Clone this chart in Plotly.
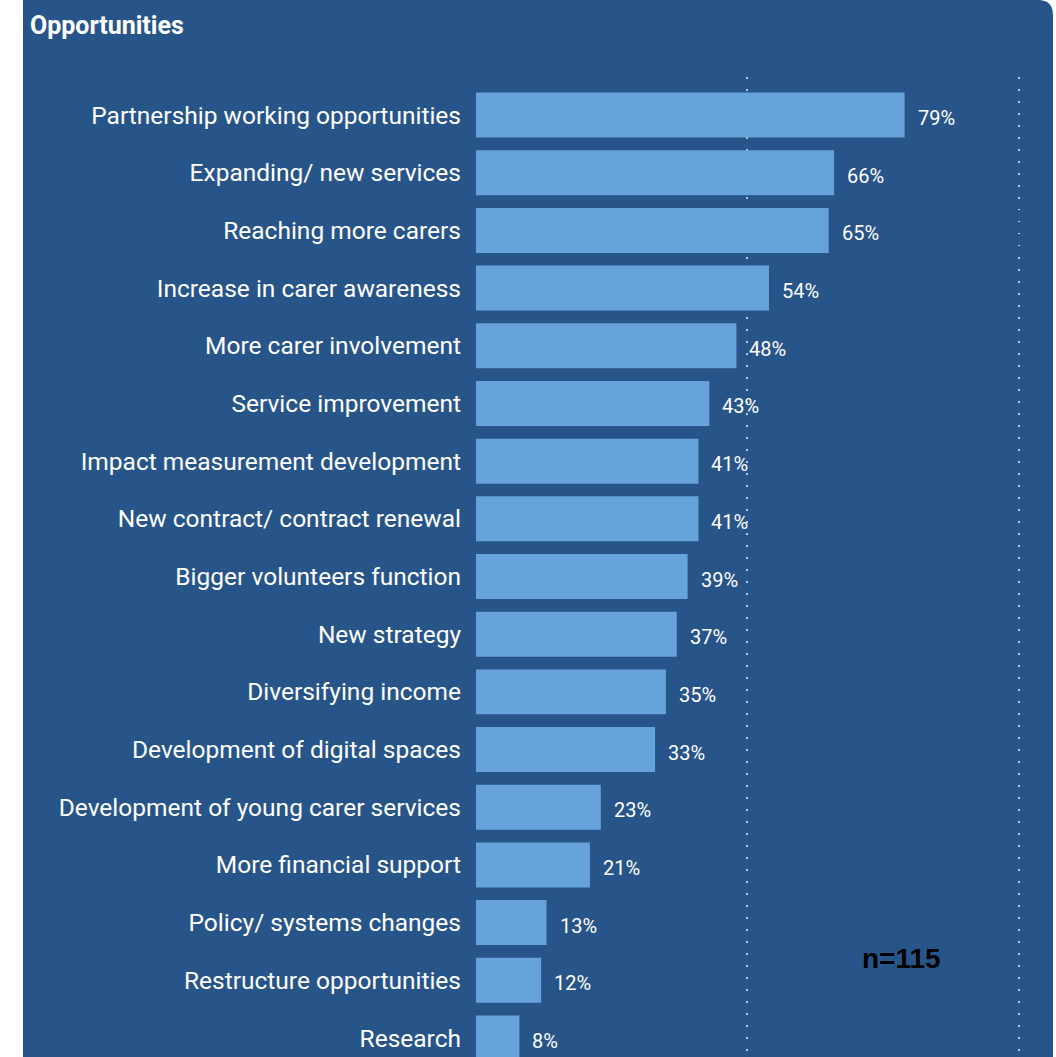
import plotly.graph_objects as go

categories = [
    "Partnership working opportunities",
    "Expanding/ new services",
    "Reaching more carers",
    "Increase in carer awareness",
    "More carer involvement",
    "Service improvement",
    "Impact measurement development",
    "New contract/ contract renewal",
    "Bigger volunteers function",
    "New strategy",
    "Diversifying income",
    "Development of digital spaces",
    "Development of young carer services",
    "More financial support",
    "Policy/ systems changes",
    "Restructure opportunities",
    "Research",
]
values = [79, 66, 65, 54, 48, 43, 41, 41, 39, 37, 35, 33, 23, 21, 13, 12, 8]
title_text = "Opportunities"
note_text = "n=115"

W, H = 1056, 1057
L, R, T, B = 476, 1024, 77, 1057   # plot area in pixels
PANEL = "#285589"
BAR = "#66A3DA"
FONT = "Roboto"


def px_x(px):
    return (px - L) / (R - L)


def px_y(py):
    return (B - py) / (B - T)


fig = go.Figure(
    go.Bar(
        x=values,
        y=categories,
        orientation="h",
        marker=dict(color=BAR, line=dict(width=0)),
        width=0.78,
        hoverinfo="skip",
    )
)

for v, c in zip(values, categories):
    fig.add_annotation(
        x=v, y=c, xref="x", yref="y",
        text=f"{v}%", showarrow=False,
        xanchor="left", yanchor="middle",
        xshift=11, yshift=-3,
        font=dict(family=FONT, size=20, color="white"),
    )

fig.add_annotation(
    x=px_x(901), y=px_y(958), xref="paper", yref="paper",
    text=f"<b>{note_text}</b>", showarrow=False,
    xanchor="center", yanchor="middle",
    font=dict(family="Liberation Sans, Arial", size=28, color="black"),
)

# white surroundings of the dark panel
fig.add_shape(type="rect", xref="paper", yref="paper",
              x0=px_x(-5), x1=px_x(23), y0=px_y(1070), y1=px_y(-10),
              fillcolor="white", line=dict(width=0), layer="above")
fig.add_shape(type="rect", xref="paper", yref="paper",
              x0=px_x(1053), x1=px_x(1070), y0=px_y(1070), y1=px_y(-10),
              fillcolor="white", line=dict(width=0), layer="above")
r = 15
path = (f"M {px_x(1053 - r)},{px_y(0)} L {px_x(1053)},{px_y(0)} "
        f"L {px_x(1053)},{px_y(r)} Q {px_x(1053)},{px_y(0)} {px_x(1053 - r)},{px_y(0)} Z")
fig.add_shape(type="path", xref="paper", yref="paper", path=path,
              fillcolor="white", line=dict(width=0), layer="above")

fig.update_layout(
    width=W, height=H,
    margin=dict(l=L, r=W - R, t=T, b=H - B, pad=0),
    paper_bgcolor=PANEL,
    plot_bgcolor="rgba(0,0,0,0)",
    showlegend=False,
    title=dict(
        text=f"<b>{title_text}</b>",
        x=30 / W, xref="container", xanchor="left",
        y=1 - 25 / H, yref="container", yanchor="middle",
        font=dict(family=FONT, size=25, color="white"),
    ),
    xaxis=dict(
        range=[0, 101],
        tickvals=[0, 50, 100],
        showticklabels=False,
        showgrid=True,
        gridcolor="rgba(205,215,230,0.9)",
        gridwidth=2,
        griddash="1.5px,10.5px",
        zeroline=False,
        showline=False,
        fixedrange=True,
    ),
    yaxis=dict(
        type="category",
        categoryorder="array",
        categoryarray=categories,
        range=[16.33, -0.66],
        showgrid=False,
        zeroline=False,
        showline=False,
        ticks="",
        ticklabelstandoff=14,
        tickfont=dict(family=FONT, size=24.5, color="white"),
        fixedrange=True,
    ),
)

fig.write_html(
    "out.html",
    config={"displayModeBar": False},
    post_script="document.body.style.margin='0';document.body.style.overflow='hidden';",
)
